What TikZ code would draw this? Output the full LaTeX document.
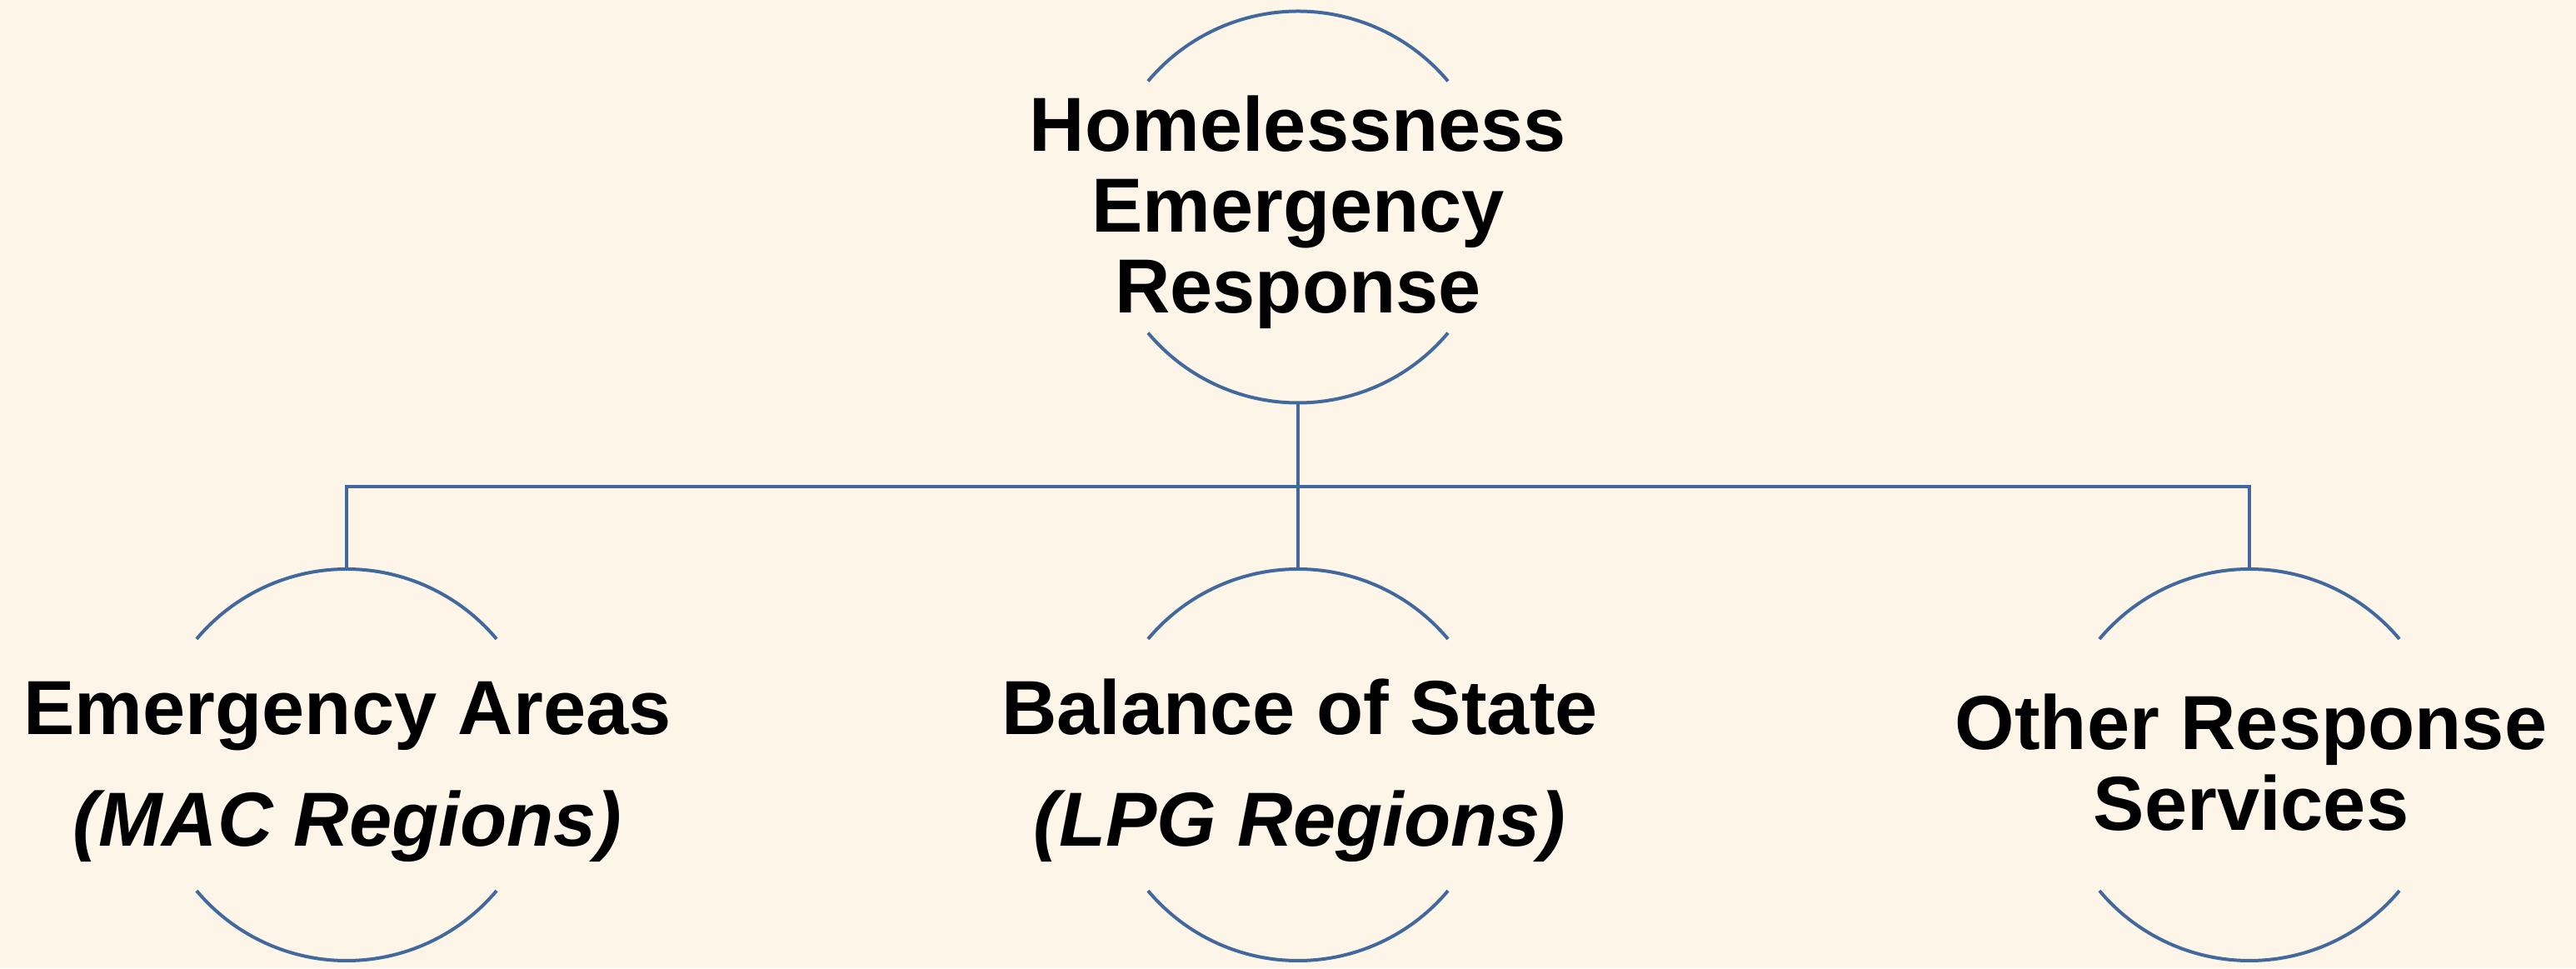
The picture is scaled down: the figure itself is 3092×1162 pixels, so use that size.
\documentclass[tikz,border=0pt]{standalone}
\usepackage{fontspec}
\setmainfont{Liberation Sans}
\definecolor{bgc}{RGB}{253,245,232}
\definecolor{linec}{RGB}{65,105,157}
\tikzset{
  ring/.style={circle, minimum size=470pt, inner sep=0pt, outer sep=0pt},
  arcline/.style={draw=linec, line width=4pt},
  conn/.style={draw=linec, line width=4pt},
  lbl/.style={anchor=base, inner sep=0pt, font=\fontsize{92pt}{97pt}\selectfont\bfseries},
  lbli/.style={lbl, font=\fontsize{92pt}{97pt}\selectfont\bfseries\itshape}
}
\begin{document}
\begin{tikzpicture}[x=1pt, y=1pt]
\fill[bgc] (0,0) rectangle (3092,1162);
\useasboundingbox (0,0) rectangle (3092,1162);

% ring nodes
\node[ring] (top) at (1558,913.5) {};
\node[ring] (left) at (416,244) {};
\node[ring] (mid) at (1558,244) {};
\node[ring] (right) at (2700,244) {};

% arcs
\foreach \n in {top,left,mid,right}{
  \draw[arcline] (\n.40) arc[start angle=40, end angle=140, radius=235pt];
  \draw[arcline] (\n.220) arc[start angle=220, end angle=320, radius=235pt];
}

% connectors
\coordinate (bus) at (0,578);
\draw[conn] (top.south) -- (mid.north);
\draw[conn] (left.north) -- (left.north |- bus) -- (right.north |- bus) -- (right.north);

% labels
\node[lbl] (t1) at (1558,980) {Homelessness};
\node[lbl] (t2) at (1558,883) {Emergency};
\node[lbl] (t3) at (1558,786) {Response};

\node[lbl] (l1) at (417,280) {Emergency Areas};
\node[lbli] (l2) at (417,146) {(MAC Regions)};

\node[lbl] (m1) at (1560,280) {Balance of State};
\node[lbli] (m2) at (1560,146) {(LPG Regions)};

\node[lbl] (r1) at (2702,262) {Other Response};
\node[lbl] (r2) at (2702,165) {Services};
\end{tikzpicture}
\end{document}
